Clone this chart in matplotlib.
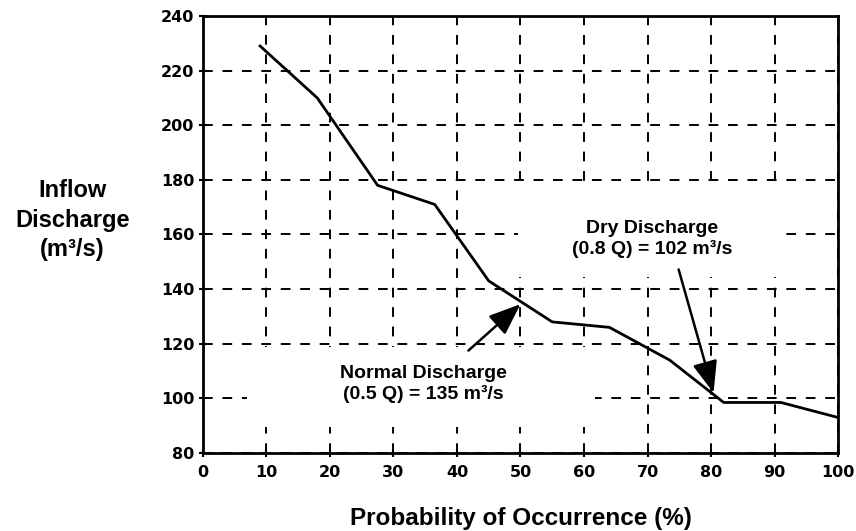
import matplotlib
matplotlib.use("Agg")
import matplotlib.pyplot as plt
from matplotlib.patches import Rectangle

# flow duration curve
probability = [9, 18, 27.5, 36.5, 45, 55, 64, 73.5, 82, 91, 100]
discharge = [229, 210, 178, 171, 143, 128, 126, 114, 98.5, 98.5, 93]

x_ticks = list(range(0, 101, 10))
y_ticks = list(range(80, 241, 20))

normal_label = "Normal Discharge\n(0.5 Q) = 135 m³/s"
normal_point = (50, 134.5)
dry_label = "Dry Discharge\n(0.8 Q) = 102 m³/s"
dry_point = (80.4, 102)

label_font = "Liberation Sans"

fig = plt.figure(figsize=(8.56, 5.31), dpi=100)
ax = fig.add_axes([0.2371, 0.1469, 0.7419, 0.8230])

ax.set_xlim(0, 100)
ax.set_ylim(80, 240)
ax.set_xticks(x_ticks)
ax.set_yticks(y_ticks)

ax.grid(True, color="black", linestyle=(0, (5, 5)), linewidth=1.4, zorder=1)
ax.set_axisbelow(True)

for side in ax.spines.values():
    side.set_linewidth(2)

ax.tick_params(direction="inout", length=6, width=1.5, color="black")
ax.tick_params(axis="x", pad=6)
ax.tick_params(axis="y", pad=3)
for lab in ax.get_xticklabels() + ax.get_yticklabels():
    lab.set_fontfamily("DejaVu Sans")
    lab.set_fontweight("bold")
    lab.set_fontsize(11.5)

# white boxes that blank out the grid behind the annotations
ax.add_patch(Rectangle((6.9, 89.5), 54.8, 29.3, facecolor="white",
                       edgecolor="none", zorder=2))
ax.add_patch(Rectangle((49.6, 144.4), 41.7, 33.0, facecolor="white",
                       edgecolor="none", zorder=2))

ax.plot(probability, discharge, color="black", linewidth=2, zorder=3)

ax.text(34.7, 105.2, normal_label, ha="center", va="center",
        fontsize=14, fontweight="bold", family=label_font, zorder=4)
ax.text(70.7, 158.4, dry_label, ha="center", va="center",
        fontsize=14, fontweight="bold", family=label_font, zorder=4)

arrow = dict(arrowstyle="-|>,head_length=1.4,head_width=0.55",
             color="black", lw=1.8, mutation_scale=14, shrinkA=0, shrinkB=0)
ax.annotate("", xy=normal_point, xytext=(41.8, 117.5), arrowprops=arrow,
            zorder=5)
ax.annotate("", xy=dry_point, xytext=(74.9, 147.2), arrowprops=arrow,
            zorder=5)

ax.set_xlabel("Probability of Occurrence (%)", fontsize=17.5, fontweight="bold",
              family=label_font, labelpad=19)
ax.set_ylabel("Inflow\nDischarge\n(m³/s)", fontsize=17, fontweight="bold",
              family=label_font, rotation=0, ha="center", va="center",
              multialignment="center", linespacing=1.35)
ax.yaxis.set_label_coords(-0.206, 0.533)

fig.savefig("out.png", dpi=100)
